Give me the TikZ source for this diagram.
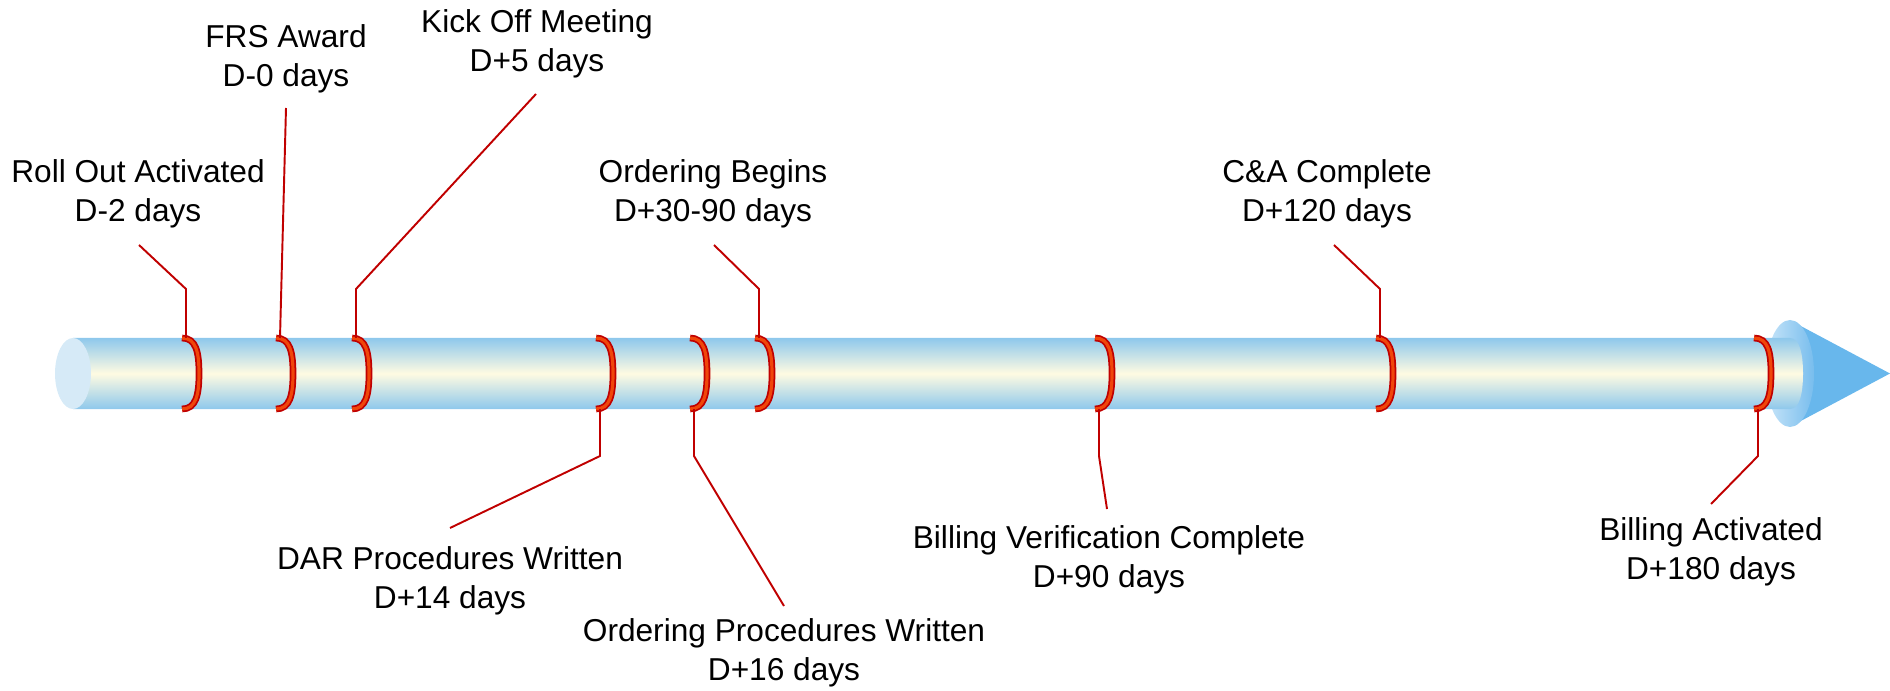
\documentclass[tikz,border=0pt]{standalone}
\usepackage{fontspec}
\setmainfont{Liberation Sans}

\definecolor{tubeblue}{RGB}{142,200,236}
\definecolor{tubecream}{RGB}{255,251,226}
\definecolor{capblue}{RGB}{214,234,247}
\definecolor{flareleft}{RGB}{200,229,249}
\definecolor{flareright}{RGB}{120,189,237}
\definecolor{conecol}{RGB}{104,183,236}
\definecolor{ringred}{RGB}{192,0,0}
\definecolor{ringorange}{RGB}{240,70,10}

\tikzset{
  leader/.style={draw=ringred, line width=0.55pt},
  ringline/.style={draw=ringred, line width=0.5pt, double=ringorange, double distance=0.9pt},
  stage/.style={align=center, inner sep=0pt, font=\fontsize{9}{11}\selectfont}
}

\begin{document}
\begin{tikzpicture}[x=0.01cm, y=-0.01cm]
    \useasboundingbox (0,0) rectangle (1890,691);
    % arrow head
    \fill[conecol] (1797,324) -- (1890,373.5) -- (1797,423) -- cycle;
    \shade[left color=flareleft, right color=flareright] (1790,373.5) ellipse (24 and 53.5);
    % tube
    \shade[top color=tubeblue, bottom color=tubeblue, middle color=tubecream]
      (73,338) -- (1790,338) .. controls (1800,338) and (1803,355) .. (1803,373.5)
      .. controls (1803,392) and (1800,409) .. (1790,409) -- (73,409) -- cycle;
    \fill[capblue] (73,373.5) ellipse (18 and 35.5);

    % rings
    \draw[ringline] (182,338) .. controls +(14,0) and +(0,-21.5) .. (199,373.5) .. controls +(0,21.5) and +(14,0) .. (182,409);
    \draw[ringline] (276,338) .. controls +(14,0) and +(0,-21.5) .. (293,373.5) .. controls +(0,21.5) and +(14,0) .. (276,409);
    \draw[ringline] (352,338) .. controls +(14,0) and +(0,-21.5) .. (369,373.5) .. controls +(0,21.5) and +(14,0) .. (352,409);
    \draw[ringline] (596,338) .. controls +(14,0) and +(0,-21.5) .. (613,373.5) .. controls +(0,21.5) and +(14,0) .. (596,409);
    \draw[ringline] (690,338) .. controls +(14,0) and +(0,-21.5) .. (707,373.5) .. controls +(0,21.5) and +(14,0) .. (690,409);
    \draw[ringline] (755,338) .. controls +(14,0) and +(0,-21.5) .. (772,373.5) .. controls +(0,21.5) and +(14,0) .. (755,409);
    \draw[ringline] (1095,338) .. controls +(14,0) and +(0,-21.5) .. (1112,373.5) .. controls +(0,21.5) and +(14,0) .. (1095,409);
    \draw[ringline] (1376,338) .. controls +(14,0) and +(0,-21.5) .. (1393,373.5) .. controls +(0,21.5) and +(14,0) .. (1376,409);
    \draw[ringline] (1754,338) .. controls +(14,0) and +(0,-21.5) .. (1771,373.5) .. controls +(0,21.5) and +(14,0) .. (1754,409);

    % milestones above
    \node[stage] (roll) at (138,194) {Roll Out Activated\\D-2 days};
    \node[stage] (frs) at (286,59) {FRS Award\\D-0 days};
    \node[stage] (kick) at (537,43.5) {Kick Off Meeting\\D+5 days};
    \node[stage] (ordbeg) at (713,194) {Ordering Begins\\D+30-90 days};
    \node[stage] (ca) at (1327,194) {C\&A Complete\\D+120 days};
    % milestones below
    \node[stage] (dar) at (450,581) {DAR Procedures Written\\D+14 days};
    \node[stage] (ordproc) at (784,653) {Ordering Procedures Written\\D+16 days};
    \node[stage] (billver) at (1109,560) {Billing Verification Complete\\D+90 days};
    \node[stage] (billact) at (1711,552) {Billing Activated\\D+180 days};

    \coordinate (roll-a) at (139,245);
    \coordinate (roll-b) at (186,289);
    \coordinate (roll-c) at (186,338);
    \coordinate (frs-a) at (286,108);
    \coordinate (frs-c) at (280,338);
    \coordinate (kick-a) at (536,94);
    \coordinate (kick-b) at (356,289);
    \coordinate (kick-c) at (356,338);
    \coordinate (ordbeg-a) at (714,245);
    \coordinate (ordbeg-b) at (759,289);
    \coordinate (ordbeg-c) at (759,338);
    \coordinate (ca-a) at (1334,245);
    \coordinate (ca-b) at (1380,289);
    \coordinate (ca-c) at (1380,338);
    \coordinate (dar-a) at (450,528);
    \coordinate (dar-b) at (600,456);
    \coordinate (dar-c) at (600,409);
    \coordinate (ordproc-a) at (784,606);
    \coordinate (ordproc-b) at (694,456);
    \coordinate (ordproc-c) at (694,409);
    \coordinate (billver-a) at (1107,509);
    \coordinate (billver-b) at (1099,456);
    \coordinate (billver-c) at (1099,409);
    \coordinate (billact-a) at (1711,504);
    \coordinate (billact-b) at (1758,456);
    \coordinate (billact-c) at (1758,409);

    \draw[leader] (roll-a) -- (roll-b) -- (roll-c);
    \draw[leader] (frs-a) -- (frs-c);
    \draw[leader] (kick-a) -- (kick-b) -- (kick-c);
    \draw[leader] (ordbeg-a) -- (ordbeg-b) -- (ordbeg-c);
    \draw[leader] (ca-a) -- (ca-b) -- (ca-c);
    \draw[leader] (dar-a) -- (dar-b) -- (dar-c);
    \draw[leader] (ordproc-a) -- (ordproc-b) -- (ordproc-c);
    \draw[leader] (billver-a) -- (billver-b) -- (billver-c);
    \draw[leader] (billact-a) -- (billact-b) -- (billact-c);
  \end{tikzpicture}
\end{document}
